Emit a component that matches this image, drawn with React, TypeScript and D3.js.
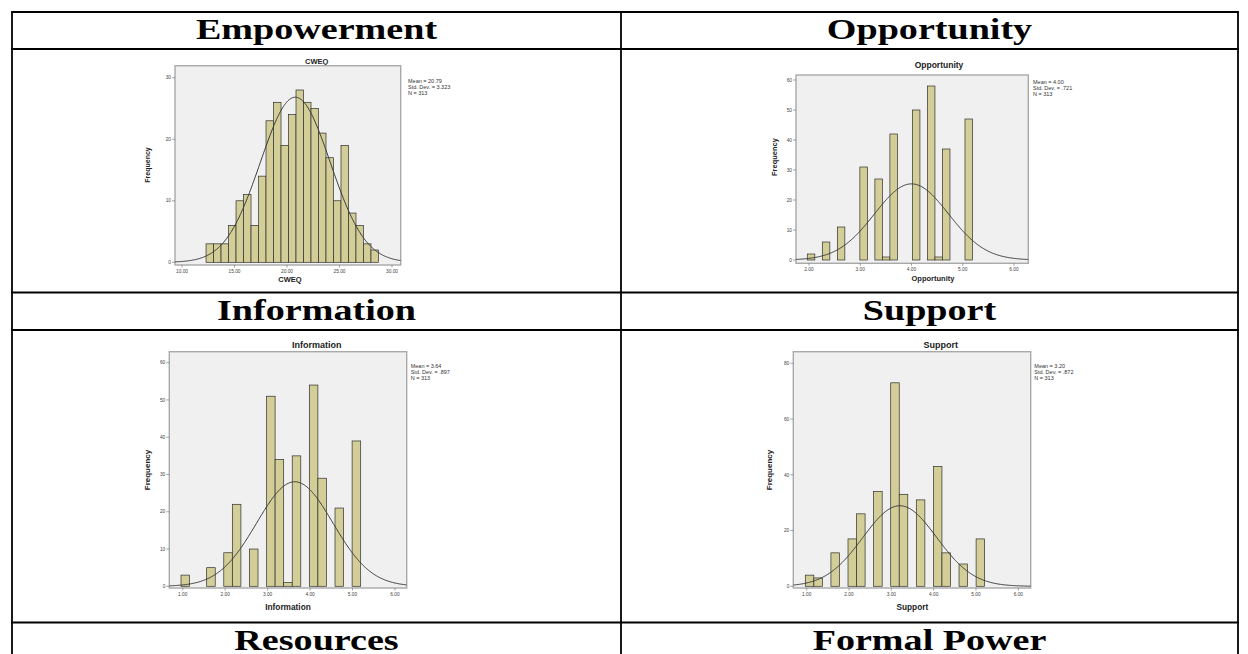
import React from 'react';
import * as d3 from 'd3';

// ---------- DATA ----------
const headerTop = ['Empowerment', 'Opportunity'];
const headerMid = ['Information', 'Support'];
const headerBottom = ['Resources', 'Formal Power'];

// CWEQ (Empowerment)
const cweqCounts = [3, 3, 3, 6, 10, 11, 6, 14, 23, 26, 19, 24, 28, 26, 25, 21, 17, 10, 19, 8, 6, 3, 2];
const cweqBin = [12.29, 0.714]; // start, width
const cweqStats = [20.79, 3.323, 313];
const cweqStatLabels = ['Mean = 20.79', 'Std. Dev. = 3.323', 'N = 313'];
const cweqXTicks = [10, 15, 20, 25, 30];
const cweqYTicks = [0, 10, 20, 30];

// Opportunity
const oppCounts = [2, 0, 6, 0, 11, 0, 0, 31, 0, 27, 1, 42, 0, 0, 50, 0, 58, 1, 37, 0, 0, 47];
const oppBin = [1.967, 0.1465];
const oppStats = [4.0, 0.721, 313];
const oppStatLabels = ['Mean = 4.00', 'Std. Dev. = .721', 'N = 313'];
const oppXTicks = [2, 3, 4, 5, 6];
const oppYTicks = [0, 10, 20, 30, 40, 50, 60];

// Information
const infoCounts = [3, 0, 0, 5, 0, 9, 22, 0, 10, 0, 51, 34, 1, 35, 0, 54, 29, 0, 21, 0, 39];
const infoBin = [0.96, 0.2015];
const infoStats = [3.64, 0.897, 313];
const infoStatLabels = ['Mean = 3.64', 'Std. Dev. = .897', 'N = 313'];
const infoXTicks = [1, 2, 3, 4, 5, 6];
const infoYTicks = [0, 10, 20, 30, 40, 50, 60];

// Support
const supCounts = [4, 3, 0, 12, 0, 17, 26, 0, 34, 0, 73, 33, 0, 31, 0, 43, 12, 0, 8, 0, 17];
const supBin = [0.967, 0.2018];
const supStats = [3.2, 0.872, 313];
const supStatLabels = ['Mean = 3.20', 'Std. Dev. = .872', 'N = 313'];
const supXTicks = [1, 2, 3, 4, 5, 6];
const supYTicks = [0, 20, 40, 60, 80];

// ---------- STYLE ----------
const SANS = "'Liberation Sans', Arial, sans-serif";
const SERIF = "'Liberation Serif', 'Times New Roman', serif";
const BAR_FILL = '#d3ce97';
const BAR_STROKE = '#2e2e2e';
const PLOT_BG = '#f0f0f0';
const FRAME = '#a9a9a9';

type Layout = {
  fx0: number; fx1: number; fy0: number; fy1: number;
  xDom: number[]; xRange: number[]; yDom: number[]; yRange: number[];
  titleX: number; titleY: number; titleSize: number;
  xTitleX: number; xTitleY: number; axisSize: number;
  yTitleX: number; yTitleY: number; yTitleSize: number;
  statsX: number; statsY: number;
};

function Histogram(props: {
  L: Layout; counts: number[]; bin: number[]; stats: number[]; statLabels: string[];
  title: string; xTitle: string; xTicks: number[]; yTicks: number[]; id: string;
}) {
  const { L, counts, bin, stats, statLabels, title, xTitle, xTicks, yTicks, id } = props;
  const x = d3.scaleLinear().domain(L.xDom).range(L.xRange);
  const y = d3.scaleLinear().domain(L.yDom).range(L.yRange);
  const [start, width] = bin;
  const [mean, sd, n] = stats;
  const xMin = x.invert(L.fx0);
  const xMax = x.invert(L.fx1);
  const pts = d3.range(0, 301).map((i) => xMin + ((xMax - xMin) * i) / 300);
  const pdf = (v: number) =>
    ((n * width) / (sd * Math.sqrt(2 * Math.PI))) * Math.exp(-0.5 * ((v - mean) / sd) ** 2);
  const line = d3.line<number>().x((d) => x(d)).y((d) => y(pdf(d)));
  const fmt = d3.format('.2f');
  return (
    <g>
      <defs>
        <clipPath id={id}>
          <rect x={L.fx0} y={L.fy0} width={L.fx1 - L.fx0} height={L.fy1 - L.fy0} />
        </clipPath>
      </defs>
      <text x={L.titleX} y={L.titleY} textAnchor="middle" fontFamily={SANS} fontWeight="bold"
        fontSize={L.titleSize} fill="#222">{title}</text>
      <rect x={L.fx0} y={L.fy0} width={L.fx1 - L.fx0} height={L.fy1 - L.fy0}
        fill={PLOT_BG} stroke={FRAME} strokeWidth={1.4} />
      <g clipPath={`url(#${id})`}>
        {counts.map((c, i) =>
          c > 0 ? (
            <rect key={i} x={x(start + i * width)} y={y(c)}
              width={x(start + (i + 1) * width) - x(start + i * width)}
              height={y(0) - y(c)} fill={BAR_FILL} stroke={BAR_STROKE} strokeWidth={0.7} />
          ) : null
        )}
        <path d={line(pts) || ''} fill="none" stroke="#3a3a3a" strokeWidth={1} />
      </g>
      {yTicks.map((t) => (
        <g key={'y' + t}>
          <line x1={L.fx0 - 3} x2={L.fx0} y1={y(t)} y2={y(t)} stroke="#666" strokeWidth={0.6} />
          <text x={L.fx0 - 4} y={y(t) + 1.7} textAnchor="end" fontFamily={SANS} fontSize={4.8} fill="#444">{t}</text>
        </g>
      ))}
      {xTicks.map((t) => (
        <g key={'x' + t}>
          <line x1={x(t)} x2={x(t)} y1={L.fy1} y2={L.fy1 + 2.5} stroke="#666" strokeWidth={0.6} />
          <text x={x(t)} y={L.fy1 + 7.5} textAnchor="middle" fontFamily={SANS} fontSize={4.8} fill="#444">{fmt(t)}</text>
        </g>
      ))}
      <text x={L.xTitleX} y={L.xTitleY} textAnchor="middle" fontFamily={SANS} fontWeight="bold"
        fontSize={L.axisSize} fill="#222">{xTitle}</text>
      <text transform={`translate(${L.yTitleX},${L.yTitleY}) rotate(-90)`} textAnchor="middle"
        fontFamily={SANS} fontWeight="bold" fontSize={L.yTitleSize} fill="#222">Frequency</text>
      {statLabels.map((s, i) => (
        <text key={s} x={L.statsX} y={L.statsY + i * 6} fontFamily={SANS} fontSize={5.5} fill="#333">{s}</text>
      ))}
    </g>
  );
}

const empL: Layout = {
  fx0: 175, fx1: 400.7, fy0: 65.7, fy1: 265,
  xDom: [10, 30], xRange: [182, 392], yDom: [0, 30], yRange: [262.3, 77.7],
  titleX: 316.7, titleY: 63.8, titleSize: 7.5,
  xTitleX: 290, xTitleY: 282, axisSize: 7.5,
  yTitleX: 150, yTitleY: 165, yTitleSize: 7,
  statsX: 408, statsY: 82.5,
};
const oppL: Layout = {
  fx0: 796, fx1: 1028.3, fy0: 75, fy1: 263.3,
  xDom: [2, 6], xRange: [809, 1014], yDom: [0, 60], yRange: [260, 80],
  titleX: 939, titleY: 68, titleSize: 8.5,
  xTitleX: 933, xTitleY: 281, axisSize: 7.5,
  yTitleX: 777, yTitleY: 157, yTitleSize: 7.5,
  statsX: 1033, statsY: 83.5,
};
const infoL: Layout = {
  fx0: 169.3, fx1: 406.7, fy0: 351.7, fy1: 588,
  xDom: [1, 6], xRange: [182.7, 395], yDom: [0, 60], yRange: [586.3, 362.7],
  titleX: 316.7, titleY: 347.5, titleSize: 9,
  xTitleX: 288, xTitleY: 610, axisSize: 8.3,
  yTitleX: 150, yTitleY: 470, yTitleSize: 8,
  statsX: 410.7, statsY: 368,
};
const supL: Layout = {
  fx0: 793.3, fx1: 1030.7, fy0: 351.7, fy1: 588,
  xDom: [1, 6], xRange: [806.7, 1018.3], yDom: [0, 80], yRange: [586.3, 363.3],
  titleX: 940.7, titleY: 347.5, titleSize: 9,
  xTitleX: 912.3, xTitleY: 610, axisSize: 8.3,
  yTitleX: 772, yTitleY: 470, yTitleSize: 8,
  statsX: 1034.3, statsY: 368,
};

// table geometry
const colX = [12, 621, 1238];
const rowY = [12, 49, 292.5, 330, 622.5];

function Header({ text, cx, baseline }: { text: string; cx: number; baseline: number }) {
  return (
    <text transform={`translate(${cx},${baseline}) scale(1.27,1)`} textAnchor="middle"
      fontFamily={SERIF} fontWeight="bold" fontSize={30} fill="#000">{text}</text>
  );
}

export default function App() {
  const c0 = (colX[0] + colX[1]) / 2;
  const c1 = (colX[1] + colX[2]) / 2;
  return (
    <svg width={1248} height={654} style={{ position: 'absolute', left: 0, top: 0, background: '#fff' }}>
      <rect x={0} y={0} width={1248} height={654} fill="#fff" />
      <Histogram id="c1" L={empL} counts={cweqCounts} bin={cweqBin} stats={cweqStats}
        statLabels={cweqStatLabels} title="CWEQ" xTitle="CWEQ" xTicks={cweqXTicks} yTicks={cweqYTicks} />
      <Histogram id="c2" L={oppL} counts={oppCounts} bin={oppBin} stats={oppStats}
        statLabels={oppStatLabels} title="Opportunity" xTitle="Opportunity" xTicks={oppXTicks} yTicks={oppYTicks} />
      <Histogram id="c3" L={infoL} counts={infoCounts} bin={infoBin} stats={infoStats}
        statLabels={infoStatLabels} title="Information" xTitle="Information" xTicks={infoXTicks} yTicks={infoYTicks} />
      <Histogram id="c4" L={supL} counts={supCounts} bin={supBin} stats={supStats}
        statLabels={supStatLabels} title="Support" xTitle="Support" xTicks={supXTicks} yTicks={supYTicks} />

      {rowY.map((yy, i) => (
        <line key={'h' + i} x1={colX[0] - 0.9} x2={colX[2] + 0.9} y1={yy} y2={yy} stroke="#000" strokeWidth={1.8} />
      ))}
      {colX.map((xx, i) => (
        <line key={'v' + i} x1={xx} x2={xx} y1={rowY[0]} y2={654} stroke="#000" strokeWidth={1.8} />
      ))}

      <Header text={headerTop[0]} cx={c0} baseline={39} />
      <Header text={headerTop[1]} cx={c1} baseline={39} />
      <Header text={headerMid[0]} cx={c0} baseline={319.5} />
      <Header text={headerMid[1]} cx={c1} baseline={319.5} />
      <Header text={headerBottom[0]} cx={c0} baseline={649.5} />
      <Header text={headerBottom[1]} cx={c1} baseline={649.5} />
    </svg>
  );
}
